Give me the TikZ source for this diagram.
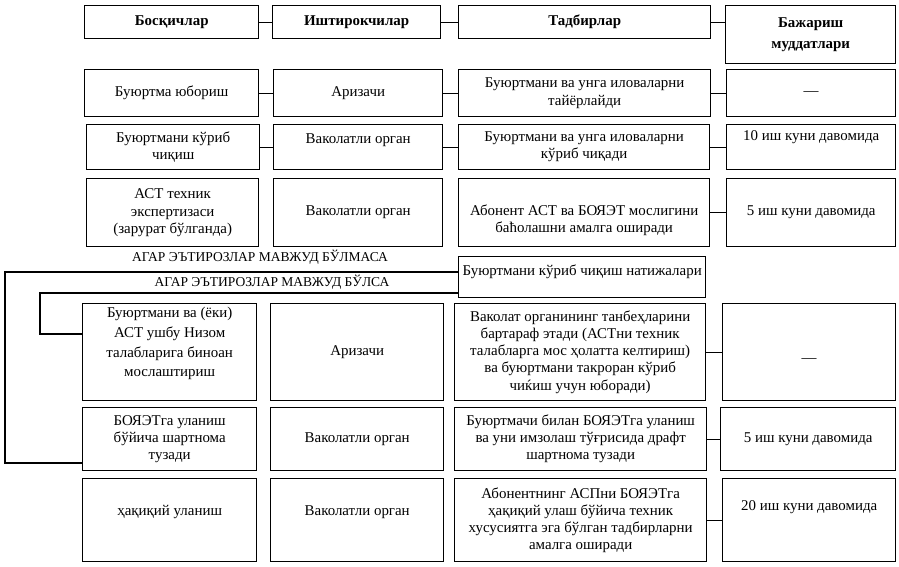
\documentclass[tikz,border=0pt]{standalone}
\usepackage{fontspec}
\setmainfont{Liberation Serif}

\tikzset{
  box/.style={draw, line width=0.8pt, anchor=north west, align=center, inner sep=2pt,
    font=\fontsize{8.5}{9.7}\selectfont},
  head/.style={box, font=\fontsize{8.5}{10}\selectfont\bfseries},
  link/.style={line width=0.7pt},
  note/.style={inner sep=0pt, font=\fontsize{7.7}{9}\selectfont},
  uptext/.style={text depth=#1},
  downtext/.style={text height=#1},
}

\begin{document}
\begin{tikzpicture}[x=0.02cm, y=-0.02cm]
        \useasboundingbox (0,0) rectangle (899,567);

        % column heads
        \node[head, minimum width=3.48cm, minimum height=0.66cm] (h1) at (84,5) {Босқичлар};
        \node[head, minimum width=3.36cm, minimum height=0.66cm] (h2) at (272,5) {Иштирокчилар};
        \node[head, minimum width=5.04cm, minimum height=0.66cm] (h3) at (458,5) {Тадбирлар};
        \node[head, minimum width=3.40cm, minimum height=1.16cm] (h4) at (725,5) {Бажариш\\[2pt] муддатлари};

        % first part
        \node[box, minimum width=3.48cm, minimum height=0.94cm] (a1) at (84,69) {Буюртма юбориш};
        \node[box, minimum width=3.38cm, minimum height=0.94cm] (a2) at (273,69) {Аризачи};
        \node[box, minimum width=5.04cm, minimum height=0.94cm] (a3) at (458,69) {Буюртмани ва унга иловаларни\\ тайёрлайди};
        \node[box, minimum width=3.38cm, minimum height=0.94cm] (a4) at (726,69) {—};

        \node[box, minimum width=3.46cm, minimum height=0.90cm] (b1) at (86,124) {Буюртмани кўриб\\ чиқиш};
        \node[box, minimum width=3.38cm, minimum height=0.90cm, uptext=0.34cm] (b2) at (273,124) {Ваколатли орган};
        \node[box, minimum width=5.02cm, minimum height=0.90cm] (b3) at (458,124) {Буюртмани ва унга иловаларни\\ кўриб чиқади};
        \node[box, minimum width=3.38cm, minimum height=0.90cm, uptext=0.46cm] (b4) at (726,124) {10 иш куни давомида};

        \node[box, minimum width=3.44cm, minimum height=1.36cm] (c1) at (86,178) {АСТ техник\\ экспертизаси\\ (зарурат бўлганда)};
        \node[box, minimum width=3.38cm, minimum height=1.36cm] (c2) at (273,178) {Ваколатли орган};
        \node[box, minimum width=5.02cm, minimum height=1.36cm] (c3) at (458,178) {\rule{0pt}{0.5cm}Абонент АСТ ва БОЯЭТ мослигини\\ баћолашни амалга оширади};
        \node[box, minimum width=3.38cm, minimum height=1.36cm] (c4) at (726,178) {5 иш куни давомида};

        % result of the check
        \node[note] (notobj) at (260,257) {АГАР ЭЪТИРОЗЛАР МАВЖУД БЎЛМАСА};
        \node[note] (obj) at (272,282) {АГАР ЭЪТИРОЗЛАР МАВЖУД БЎЛСА};
        \node[box, minimum width=4.94cm, minimum height=0.82cm, uptext=0.3cm] (natija) at (458,256) {Буюртмани кўриб чиқиш натижалари};

        % second part
        \node[box, minimum width=3.48cm, minimum height=1.94cm, uptext=0.4cm] (d1) at (82,303) {Буюртмани ва (ёки)\\[1.5pt] АСТ ушбу Низом\\[1.5pt] талабларига биноан\\[1.5pt] мослаштириш};
        \node[box, minimum width=3.46cm, minimum height=1.94cm] (d2) at (270,303) {Аризачи};
        \node[box, minimum width=5.02cm, minimum height=1.94cm] (d3) at (454,303) {Ваколат органининг танбеҳларини\\ бартараф этади (АСТни техник\\ талабларга мос ҳолатта келтириш)\\ ва буюртмани такроран кўриб\\ чиќиш учун юборади)};
        \node[box, minimum width=3.46cm, minimum height=1.94cm, downtext=0.4cm] (d4) at (722,303) {—};

        \node[box, minimum width=3.48cm, minimum height=1.26cm] (e1) at (82,407) {БОЯЭТга уланиш\\ бўйича шартнома\\ тузади};
        \node[box, minimum width=3.46cm, minimum height=1.26cm] (e2) at (270,407) {Ваколатли орган};
        \node[box, minimum width=5.04cm, minimum height=1.26cm] (e3) at (454,407) {Буюртмачи билан БОЯЭТга уланиш\\ ва уни имзолаш тўғрисида драфт\\ шартнома тузади};
        \node[box, minimum width=3.50cm, minimum height=1.26cm] (e4) at (720,407) {5 иш куни давомида};

        \node[box, minimum width=3.48cm, minimum height=1.66cm, uptext=0.38cm] (f1) at (82,478) {ҳақиқий уланиш};
        \node[box, minimum width=3.46cm, minimum height=1.66cm, uptext=0.38cm] (f2) at (270,478) {Ваколатли орган};
        \node[box, minimum width=5.04cm, minimum height=1.66cm] (f3) at (454,478) {Абонентнинг АСПни БОЯЭТга\\ ҳақиқий улаш бўйича техник\\ хусусиятга эга бўлган тадбирларни\\ амалга оширади};
        \node[box, minimum width=3.46cm, minimum height=1.66cm, uptext=0.6cm] (f4) at (722,478) {20 иш куни давомида};

        % links between the columns
        \draw[link] (h1) -- (h2);
        \draw[link] (h2) -- (h3);
        \draw[link] (h3.east) -- (h3.east -| h4.west);
        \draw[link] (a1) -- (a2);
        \draw[link] (a2) -- (a3);
        \draw[link] (a3) -- (a4);
        \draw[link] (b1) -- (b2);
        \draw[link] (b2) -- (b3);
        \draw[link] (b3) -- (b4);
        \draw[link] (c3) -- (c4);
        \draw[link] (d3) -- (d4);
        \draw[link] (e3) -- (e4);
        \draw[link] (f3) -- (f4);

        % back to the second part
        \coordinate (outA) at (5,272);
        \coordinate (outB) at (5,463);
        \coordinate (inA) at (40,293);
        \coordinate (inB) at (40,334);
        \draw[link] (natija.west |- outA) -- (outA) -- (outB) -- (e1.west |- outB);
        \draw[link] (natija.west |- inA) -- (inA) -- (inB) -- (d1.west |- inB);
    \end{tikzpicture}
\end{document}
